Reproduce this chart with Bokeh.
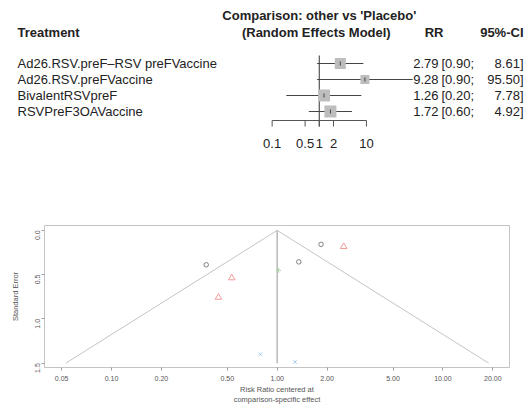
import math
from bokeh.plotting import figure
from bokeh.models import Range1d, FixedTicker, PrintfTickFormatter
from bokeh.layouts import column
from bokeh.embed import file_html
from bokeh.resources import INLINE
from bokeh.core.properties import value

# ---------------- data: forest plot ----------------
treatments = ["Ad26.RSV.preF\u2013RSV preFVaccine", "Ad26.RSV.preFVaccine",
              "BivalentRSVpreF", "RSVPreF3OAVaccine"]
rr = [2.79, 9.28, 1.26, 1.72]
ci_lower = [0.90, 0.90, 0.20, 0.60]
ci_upper = [8.61, 95.50, 7.78, 4.92]
box_size = [11, 9, 12, 12]
forest_ticks = [0.1, 0.5, 1, 2, 10]
forest_tick_labels = ["0.1", "0.5", "1", "2", "10"]

# ---------------- data: funnel plot ----------------
circle_rr = [0.373, 1.35, 1.84]
circle_se = [0.389, 0.356, 0.158]
triangle_rr = [0.532, 0.442, 2.52]
triangle_se = [0.537, 0.757, 0.184]
xmark_rr = [0.793, 1.28]
xmark_se = [1.40, 1.488]
plus_rr = [1.02]
plus_se = [0.452]
funnel_x = [0.053, 1.0, 18.9]
funnel_y = [1.5, 0.0, 1.5]
se_max = 1.5
funnel_ticks = [0.05, 0.1, 0.2, 0.5, 1, 2, 5, 10, 20]
se_ticks = [0, 0.5, 1.0, 1.5]

FONT = "Arial, Liberation Sans, sans-serif"
W = 526
ink = "#222222"

# ================= top: forest plot =================
TOP_H = 160
ref_px = 318.8          # pixel of RR = 1
px_per_dec = 47.15
row_px0 = 63            # pixel of first row
row_h = 16


def y_at(px):
    return 1 + (px - row_px0) / row_h


def x_at(px):
    return 10 ** ((px - ref_px) / px_per_dec)


rows = list(range(1, len(treatments) + 1))
top = figure(width=W, height=TOP_H, x_axis_type="log",
             x_range=Range1d(x_at(0), x_at(W)),
             y_range=Range1d(y_at(TOP_H), y_at(0)),
             x_axis_location=None, y_axis_location=None,
             toolbar_location=None, output_backend="svg", min_border=0,
             outline_line_color=None)
top.grid.visible = False


def txt(fig, xs, ys, texts, align="left", bold=False, size="13px", color=ink, x_offset=0):
    fig.text(x=xs, y=ys, text=texts, text_align=align, text_baseline="middle",
             text_font=value(FONT), text_font_size=size, text_color=color,
             text_font_style="bold" if bold else "normal", x_offset=x_offset)


# headers
txt(top, [1], [y_at(15)], ["Comparison: other vs 'Placebo'"], align="center", bold=True)
txt(top, [1], [y_at(32)], ["(Random Effects Model)"], align="center", bold=True, x_offset=-3)
txt(top, [x_at(17)], [y_at(32)], ["Treatment"], bold=True)
txt(top, [x_at(443)], [y_at(32)], ["RR"], align="right", bold=True)
txt(top, [x_at(523)], [y_at(32)], ["95%-CI"], align="right", bold=True)

# reference line
top.segment(x0=[1], y0=[y_at(55)], x1=[1], y1=[y_at(126)], line_color="#555555", line_width=1.2)
# confidence intervals
top.segment(x0=ci_lower, y0=rows, x1=ci_upper, y1=rows, line_color="#444444", line_width=1)
# boxes
top.rect(x=rr, y=rows, width=box_size, height=box_size, width_units="screen",
         height_units="screen", fill_color="#bdbdbd", line_color=None)
top.scatter(x=rr, y=rows, marker="dash", angle=math.pi / 2, size=4, line_color="#444444")

# axis
n_t = len(forest_ticks)
top.segment(x0=[forest_ticks[0]], y0=[y_at(120)], x1=[forest_ticks[-1]], y1=[y_at(120)],
            line_color="#555555", line_width=1)
top.segment(x0=forest_ticks, y0=[y_at(120)] * n_t, x1=forest_ticks, y1=[y_at(126)] * n_t,
            line_color="#555555", line_width=1)
txt(top, forest_ticks, [y_at(143)] * n_t, forest_tick_labels, align="center")

# text columns
n = len(treatments)
txt(top, [x_at(17)] * n, rows, treatments)
txt(top, [x_at(438)] * n, rows, [f"{v:.2f}" for v in rr], align="right")
txt(top, [x_at(441)] * n, rows, [f"[{v:.2f};" for v in ci_lower])
txt(top, [x_at(523)] * n, rows, [f"{v:.2f}]" for v in ci_upper], align="right")

# ================= bottom: funnel plot =================
BOT_H = 407 - TOP_H
b_ref_px = 276.7
b_px_dec = 165.7
fl, fr = 44, 509
ft, fb = 225 - TOP_H, 370 - TOP_H
bot = figure(width=W, height=BOT_H, x_axis_type="log",
             x_range=Range1d(10 ** ((fl - b_ref_px) / b_px_dec), 10 ** ((fr - b_ref_px) / b_px_dec)),
             y_range=Range1d(1.549, -0.055),
             toolbar_location=None, output_backend="svg",
             min_border_left=fl, min_border_right=W - fr, min_border_top=ft,
             min_border_bottom=BOT_H - fb)
bot.grid.visible = False
bot.outline_line_color = "#c4c4c4"
bot.outline_line_width = 1

bot.line(funnel_x, funnel_y, line_color="#c4c4c4", line_width=1)
bot.segment(x0=[1], y0=[0], x1=[1], y1=[se_max], line_color="#bdbdbd", line_width=1.6)
bot.scatter(circle_rr, circle_se, marker="circle", size=4.5, fill_color=None,
            line_color="#808080", line_width=1)
bot.scatter(triangle_rr, triangle_se, marker="triangle", size=6.5, fill_color=None,
            line_color="#f29a9a", line_width=1)
bot.scatter(xmark_rr, xmark_se, marker="x", size=5, line_color="#a6cdef", line_width=1)
bot.scatter(plus_rr, plus_se, marker="cross", size=5, line_color="#b0d8a8", line_width=1)

for ax in (bot.xaxis, bot.yaxis):
    ax.axis_line_color = None
    ax.major_tick_line_color = "#a0a0a0"
    ax.major_tick_out = 3
    ax.major_tick_in = 0
    ax.minor_tick_line_color = None
    ax.major_label_text_font = FONT
    ax.major_label_text_font_size = "7px"
    ax.major_label_text_color = "#555555"
    ax.axis_label_text_font = FONT
    ax.axis_label_text_font_size = "7.5px"
    ax.axis_label_text_font_style = "normal"
    ax.axis_label_text_color = "#555555"

bot.xaxis.ticker = FixedTicker(ticks=funnel_ticks)
bot.xaxis.formatter = PrintfTickFormatter(format="%.2f")
bot.xaxis.major_label_standoff = 5
bot.xaxis.axis_label = "Risk Ratio centered at\ncomparison-specific effect"
bot.xaxis.axis_label_standoff = 1
bot.yaxis.ticker = FixedTicker(ticks=se_ticks)
bot.yaxis.formatter = PrintfTickFormatter(format="%.1f")
bot.yaxis.major_label_orientation = math.pi / 2
bot.yaxis.major_label_standoff = 4
bot.yaxis.axis_label = "Standard Error"
bot.yaxis.axis_label_standoff = 10

# keep each figure's own frame (no frame alignment between the stacked plots)
if "frame_align" in top.properties():
    top.frame_align = False
    bot.frame_align = False
    root = column(top, bot)
else:
    root = [top, bot]

open("out.html", "w").write(file_html(root, INLINE))
